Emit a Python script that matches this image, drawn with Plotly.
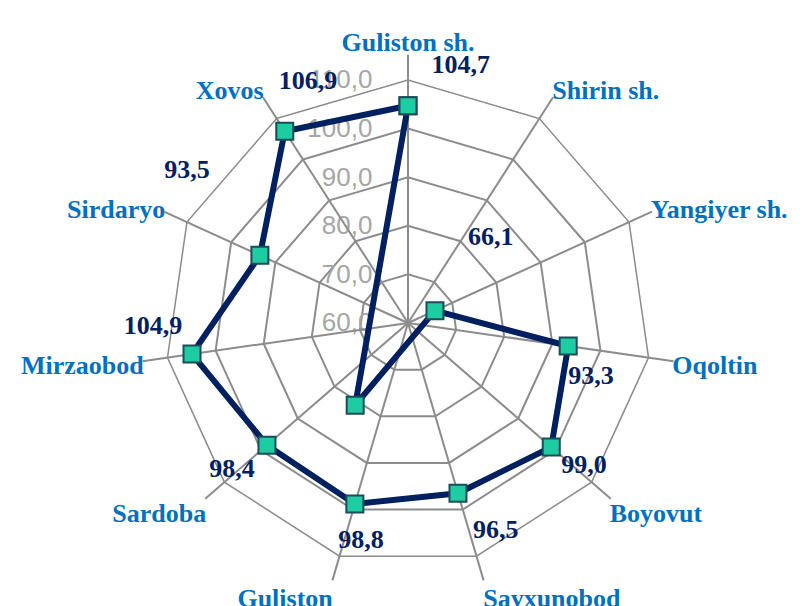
import plotly.graph_objects as go

categories = ["Guliston sh.", "Shirin sh.", "Yangiyer sh.", "Oqoltin", "Boyovut",
              "Sayxunobod", "Guliston", "Sardoba", "Mirzaobod", "Sirdaryo", "Xovos"]
values = [104.7, 39.9, 66.1, 93.3, 99.0, 96.5, 98.8, 98.4, 104.9, 93.5, 106.9]
value_labels = ["104,7", "", "66,1", "93,3", "99,0", "96,5", "98,8", "98,4", "104,9", "93,5", "106,9"]
radial_ticks = [60, 70, 80, 90, 100, 110]

# label placement (style): radial shift in axis units, angular shift in degrees
label_dr = [9.2, 0, 18.3, 6.0, 7.7, 10.0, 7.1, 8.9, 7.6, 21.6, 6.6]
label_dtheta = [11.6, 0, -21.2, 8.5, -1.8, -6.5, -4.2, 0.9, 7.1, 9.8, 10.1]

RMIN, RMAX = 60, 110
RMAX_OVER = 115.2        # overlay range: spokes run a bit past the outer ring

step = 360 / len(categories)
angles = [i * step for i in range(len(categories))]

# like Excel, a value below the axis minimum lands on the opposite side
pts = [(2 * RMIN - v, a + 180) if v < RMIN else (v, a) for v, a in zip(values, angles)]
line_r = [p[0] for p in pts]
line_t = [p[1] for p in pts]

GRID = "#8C8C8C"
NAVY = "#002060"
BLUE = "#0070C0"

W, H = 802, 606
# page body has an 8px margin, so the chart centre is set 8px up/left
CX, CY = 400, 315
R_PX = 243
R2_PX = R_PX * (RMAX_OVER - RMIN) / (RMAX - RMIN)


def dom(rpx):
    return dict(x=[(CX - rpx) / W, (CX + rpx) / W],
                y=[(H - CY - rpx) / H, (H - CY + rpx) / H])


fig = go.Figure()

# categories for the grid
fig.add_trace(go.Scatterpolar(
    r=[RMIN] * len(categories), theta=categories, mode="markers",
    marker=dict(opacity=0), hoverinfo="skip", showlegend=False, subplot="polar",
))

fig.add_trace(go.Scatterpolar(
    r=line_r + line_r[:1],
    theta=line_t + line_t[:1],
    mode="lines+markers",
    line=dict(color=NAVY, width=6),
    marker=dict(symbol="square", size=17, color="#1DCCA0",
                line=dict(color="#1F4A5C", width=2)),
    cliponaxis=False,
    showlegend=False,
    subplot="polar2",
))

fig.add_trace(go.Scatterpolar(
    r=[v + d for v, d in zip(values, label_dr)],
    theta=[a + d for a, d in zip(angles, label_dtheta)],
    mode="text",
    text=value_labels,
    textfont=dict(family="Liberation Serif", size=26, color=NAVY, weight="bold"),
    cliponaxis=False,
    showlegend=False,
    subplot="polar2",
))

fig.update_layout(
    width=W, height=H,
    paper_bgcolor="white",
    margin=dict(l=0, r=0, t=0, b=0),
    separators=", ",
    polar=dict(
        domain=dom(R_PX),
        bgcolor="white",
        gridshape="linear",
        radialaxis=dict(
            range=[RMIN, RMAX],
            angle=90,
            tickangle=90,
            side="counterclockwise",
            tickvals=radial_ticks,
            tickformat=".1f",
            tickfont=dict(family="Liberation Sans", size=26, color="#A6A6A6"),
            ticks="outside", ticklen=26, tickcolor="rgba(0,0,0,0)",
            showline=False,
            gridcolor=GRID, gridwidth=1.5,
        ),
        angularaxis=dict(
            rotation=90,
            direction="clockwise",
            tickfont=dict(family="Liberation Serif", size=26, color=BLUE, weight="bold"),
            ticks="outside", ticklen=18, tickcolor="rgba(0,0,0,0)",
            showline=True, linecolor=GRID, linewidth=1.5,
            showgrid=False,
        ),
    ),
    polar2=dict(
        domain=dom(R2_PX),
        bgcolor="rgba(0,0,0,0)",
        radialaxis=dict(range=[RMIN, RMAX_OVER], visible=False),
        angularaxis=dict(
            rotation=90, direction="clockwise",
            tickvals=angles, showticklabels=False, ticks="",
            showline=False, showgrid=True, gridcolor=GRID, gridwidth=1.5,
        ),
    ),
)

fig.write_html("out.html")
